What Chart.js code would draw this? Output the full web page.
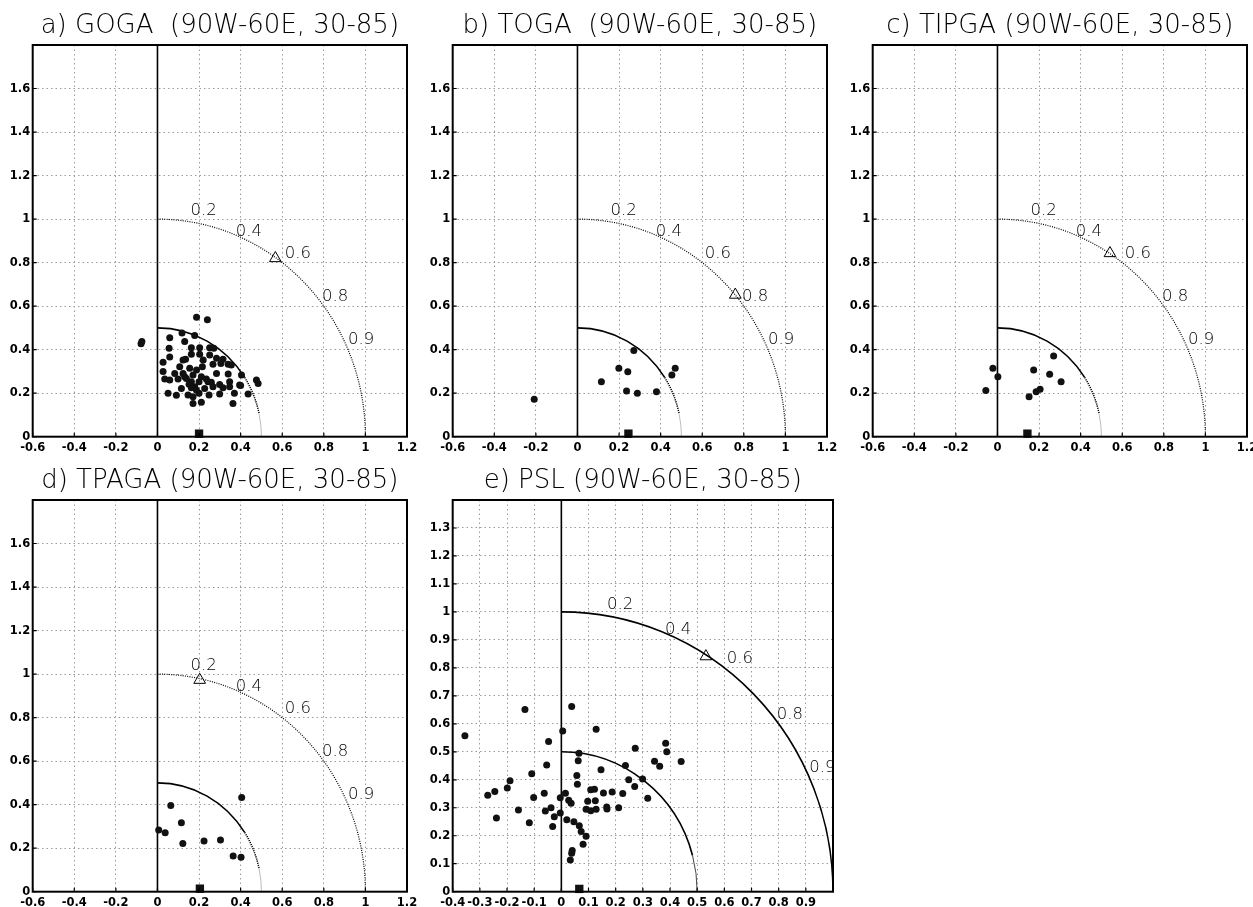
<!DOCTYPE html>
<html><head><meta charset="utf-8">
<script src="https://cdn.jsdelivr.net/npm/chart.js@4.4.1/dist/chart.umd.min.js"></script>
<style>
html,body{margin:0;padding:0;background:#fff;overflow:hidden;width:1253px;height:907px;}
canvas{position:absolute;}
</style></head><body>
<canvas id="pa"></canvas><canvas id="pb"></canvas><canvas id="pc"></canvas><canvas id="pd"></canvas><canvas id="pe"></canvas>
<script>
// ---------- titles ----------
const titles = [
  'a) GOGA  (90W-60E, 30-85)',
  'b) TOGA  (90W-60E, 30-85)',
  'c) TIPGA (90W-60E, 30-85)',
  'd) TPAGA (90W-60E, 30-85)',
  'e) PSL (90W-60E, 30-85)'
];
// ---------- tick labels ----------
const xLabelsWide = ['-0.6','-0.4','-0.2','0','0.2','0.4','0.6','0.8','1','1.2'];
const yLabelsWide = ['0','0.2','0.4','0.6','0.8','1','1.2','1.4','1.6',''];
const xLabelsPsl = ['-0.4','-0.3','-0.2','-0.1','0','0.1','0.2','0.3','0.4','0.5','0.6','0.7','0.8','0.9',''];
const yLabelsPsl = ['0','0.1','0.2','0.3','0.4','0.5','0.6','0.7','0.8','0.9','1','1.1','1.2','1.3',''];
// correlation labels on the unit arc
const corrLabels = [0.2, 0.4, 0.6, 0.8, 0.9];

// ---------- data: [x, y] ----------
const gogaPoints = [
 [-0.075,0.437],[-0.079,0.427],[0.188,0.549],[0.24,0.537],
 [0.059,0.455],[0.118,0.476],[0.179,0.465],[0.131,0.437],
 [0.056,0.406],[0.163,0.409],[0.203,0.409],[0.251,0.409],[0.271,0.406],
 [0.163,0.379],[0.203,0.379],[0.251,0.376],[0.284,0.36],[0.315,0.356],
 [0.059,0.366],[0.027,0.342],[0.123,0.353],[0.135,0.356],[0.22,0.353],
 [0.34,0.333],[0.355,0.33],[0.305,0.336],[0.267,0.333],
 [0.107,0.322],[0.155,0.314],[0.188,0.307],[0.216,0.322],[0.131,0.276],
 [0.083,0.291],[0.027,0.3],[0.123,0.291],[0.171,0.284],[0.211,0.276],[0.284,0.291],[0.34,0.288],[0.404,0.284],
 [0.035,0.265],[0.059,0.26],[0.099,0.265],[0.139,0.268],[0.163,0.253],[0.2,0.253],[0.235,0.265],[0.259,0.25],
 [0.299,0.24],[0.347,0.253],[0.395,0.238],[0.152,0.241],[0.243,0.253],[0.179,0.23],
 [0.476,0.26],[0.484,0.245],
 [0.115,0.222],[0.163,0.225],[0.187,0.215],[0.227,0.222],[0.267,0.23],[0.315,0.225],[0.347,0.23],[0.4,0.235],
 [0.051,0.2],[0.091,0.19],[0.147,0.192],[0.171,0.184],[0.2,0.2],[0.248,0.192],[0.299,0.196],[0.37,0.2],[0.436,0.196],
 [0.171,0.153],[0.211,0.158],[0.363,0.153]
];
const togaPoints = [
 [-0.208,0.172],[0.115,0.253],[0.199,0.314],[0.242,0.299],[0.271,0.396],
 [0.236,0.21],[0.288,0.2],[0.38,0.207],[0.454,0.284],[0.47,0.314]
];
const tipgaPoints = [
 [-0.056,0.212],[-0.022,0.314],[0.002,0.276],[0.152,0.184],[0.174,0.307],
 [0.186,0.207],[0.205,0.218],[0.251,0.287],[0.27,0.371],[0.306,0.253]
];
const tpagaPoints = [
 [0.006,0.284],[0.037,0.271],[0.064,0.396],[0.115,0.317],[0.122,0.222],
 [0.224,0.233],[0.303,0.238],[0.364,0.164],[0.402,0.158],[0.405,0.433]
];
const pslPoints = [
 [-0.355,0.557],[-0.134,0.651],[0.038,0.662],[0.005,0.574],[0.128,0.581],[-0.047,0.537],[-0.054,0.453],
 [-0.109,0.422],[-0.189,0.397],[-0.199,0.371],[-0.245,0.358],[-0.271,0.345],[-0.239,0.263],[-0.158,0.292],
 [-0.118,0.246],[-0.102,0.337],[-0.063,0.352],[-0.059,0.288],[-0.038,0.3],[-0.026,0.268],[-0.032,0.233],
 [-0.004,0.336],[-0.004,0.281],[0.015,0.352],[0.027,0.327],[0.036,0.316],[0.02,0.257],[0.046,0.25],
 [0.066,0.236],[0.073,0.215],[0.091,0.198],[0.08,0.17],[0.04,0.147],[0.038,0.137],[0.033,0.113],
 [0.065,0.495],[0.062,0.468],[0.057,0.415],[0.059,0.384],[0.146,0.436],[0.097,0.323],[0.108,0.364],
 [0.122,0.366],[0.125,0.325],[0.091,0.295],[0.108,0.289],[0.128,0.295],[0.155,0.353],[0.187,0.356],
 [0.167,0.303],[0.168,0.296],[0.211,0.3],[0.226,0.351],[0.236,0.451],[0.248,0.4],[0.27,0.376],
 [0.272,0.513],[0.299,0.403],[0.318,0.334],[0.343,0.466],[0.362,0.448],[0.384,0.531],[0.388,0.5],[0.441,0.465]
];
// reference (open triangle) and observation (filled square)
const gogaRef = [0.567,0.82],  gogaObs = [0.2,0.014];
const togaRef = [0.759,0.652], togaObs = [0.245,0.014];
const tipgaRef = [0.541,0.843], tipgaObs = [0.144,0.014];
const tpagaRef = [0.203,0.973], tpagaObs = [0.204,0.014];
const pslRef = [0.532,0.841],  pslObs = [0.066,0.01];

// ---------- styling / layout ----------
const labelNudge = [[-8.6,-8.6],[-5,-1.4],[2.5,-4.5],[-1.8,-5.3],[3.4,2.3]];
const FONT = '"DejaVu Sans", "Liberation Sans", sans-serif';

const taylorDecor = {
  id: 'taylorDecor',
  beforeDatasetsDraw(chart, args, o) {
    const {ctx, chartArea: a, scales: {x, y}} = chart;
    const cx = x.getPixelForValue(0), cy = y.getPixelForValue(0);
    const rx = x.getPixelForValue(1) - cx, ry = cy - y.getPixelForValue(1);
    ctx.save();
    ctx.beginPath(); ctx.rect(a.left, a.top, a.right - a.left, a.bottom - a.top); ctx.clip();
    ctx.strokeStyle = '#000'; ctx.setLineDash([]); ctx.lineWidth = 1.6;
    ctx.beginPath(); ctx.moveTo(cx, a.top); ctx.lineTo(cx, a.bottom); ctx.stroke();
    const arc = (r, d0, d1, lw, dash, col) => {
      ctx.beginPath();
      ctx.lineWidth = lw; ctx.setLineDash(dash); ctx.strokeStyle = col;
      ctx.ellipse(cx, cy, rx * r, ry * r, 0, -d0 * Math.PI / 180, -d1 * Math.PI / 180, false);
      ctx.stroke();
    };
    if (o.solid) {
      arc(1, 90, 0, 1.6, [], '#000');
      arc(0.5, 90, 15, 1.6, [], '#000');
      arc(0.5, 15, 0, 1, [], '#444');
    } else {
      arc(1, 90, 0, 1.2, [1, 1.3], '#000');
      arc(0.5, 90, 33, 1.6, [], '#000');
      arc(0.5, 33, 12, 1.5, [1.2, 1], '#000');
      arc(0.5, 12, 0, 0.8, [], '#aaa');
    }
    ctx.setLineDash([]);
    ctx.fillStyle = '#000';
    ctx.font = '300 16.5px ' + FONT;
    ctx.textAlign = 'left'; ctx.textBaseline = 'alphabetic';
    corrLabels.forEach((r, i) => {
      const px = x.getPixelForValue(r), py = y.getPixelForValue(Math.sqrt(1 - r * r));
      ctx.fillText(String(r), px + labelNudge[i][0], py + labelNudge[i][1]);
    });
    ctx.restore();
  },
  afterDraw(chart) {
    const {ctx, chartArea: a, scales: {x, y}} = chart;
    ctx.save();
    ctx.strokeStyle = '#000'; ctx.lineWidth = 2; ctx.setLineDash([]);
    ctx.strokeRect(a.left, a.top, a.right - a.left, a.bottom - a.top);
    ctx.lineWidth = 1.2;
    ctx.beginPath();
    x.ticks.forEach(t => { const p = x.getPixelForValue(t.value); ctx.moveTo(p, a.bottom); ctx.lineTo(p, a.bottom - 4); });
    y.ticks.forEach(t => { const p = y.getPixelForValue(t.value); ctx.moveTo(a.left, p); ctx.lineTo(a.left + 4, p); });
    ctx.stroke();
    ctx.restore();
  }
};

const panels = [
  {id:'pa', left:0,   top:0,   w:440, h:455, title:titles[0], xr:[-0.6,1.2,0.2], yr:[0,1.8,0.2], xl:xLabelsWide, yl:yLabelsWide, pts:gogaPoints,  ref:gogaRef,  obs:gogaObs,  solid:false},
  {id:'pb', left:420, top:0,   w:440, h:455, title:titles[1], xr:[-0.6,1.2,0.2], yr:[0,1.8,0.2], xl:xLabelsWide, yl:yLabelsWide, pts:togaPoints,  ref:togaRef,  obs:togaObs,  solid:false},
  {id:'pc', left:840, top:0,   w:440, h:455, title:titles[2], xr:[-0.6,1.2,0.2], yr:[0,1.8,0.2], xl:xLabelsWide, yl:yLabelsWide, pts:tipgaPoints, ref:tipgaRef, obs:tipgaObs, solid:false},
  {id:'pd', left:0,   top:455, w:440, h:452, title:titles[3], xr:[-0.6,1.2,0.2], yr:[0,1.8,0.2], xl:xLabelsWide, yl:yLabelsWide, pts:tpagaPoints, ref:tpagaRef, obs:tpagaObs, solid:false},
  {id:'pe', left:420, top:455, w:446, h:452, title:titles[4], xr:[-0.4,1.0,0.1], yr:[0,1.4,0.1], xl:xLabelsPsl,  yl:yLabelsPsl,  pts:pslPoints,   ref:pslRef,   obs:pslObs,   solid:true}
];

const CHART_BOTTOM = 436.7, YAXIS_W = 32.7, RIGHT_PAD = 33;
const gridDash = [1.5, 3];

panels.forEach(p => {
  const cv = document.getElementById(p.id);
  cv.width = p.w; cv.height = p.h;
  cv.style.left = p.left + 'px'; cv.style.top = p.top + 'px';
  cv.style.width = p.w + 'px'; cv.style.height = p.h + 'px';
  new Chart(cv, {
    type: 'scatter',
    data: {
      datasets: [
        {data: p.pts.map(d => ({x: d[0], y: d[1]})), pointRadius: 3.5, pointBackgroundColor: '#111', pointBorderWidth: 0, pointStyle: 'circle'},
        {data: [{x: p.ref[0], y: p.ref[1]}], pointStyle: 'triangle', pointRadius: 6.75, pointBackgroundColor: 'rgba(0,0,0,0)', pointBorderColor: '#000', pointBorderWidth: 1},
        {data: [{x: p.obs[0], y: p.obs[1]}], pointStyle: 'rect', pointRadius: 5.9, pointBackgroundColor: '#111', pointBorderWidth: 0, clip: false}
      ]
    },
    options: {
      responsive: false, animation: false, devicePixelRatio: 1,
      layout: {padding: {left: 0, right: RIGHT_PAD, top: 0, bottom: 0}},
      plugins: {
        legend: {display: false}, tooltip: {enabled: false},
        title: {display: true, fullSize: false, text: p.title, color: '#000',
          font: {family: FONT, size: 26, weight: '200', lineHeight: 1},
          padding: {top: 13, bottom: 6}},
        taylorDecor: {solid: p.solid}
      },
      scales: {
        x: {
          type: 'linear', min: p.xr[0], max: p.xr[1],
          afterFit: s => { s.height = p.h - CHART_BOTTOM; },
          ticks: {stepSize: p.xr[2], autoSkip: false, maxRotation: 0, padding: 4.5, color: '#000',
            font: {family: FONT, size: 11.5, weight: 'bold'},
            callback: (v, i) => p.xl[i]},
          grid: {color: '#9a9a9a', lineWidth: 1, drawTicks: false},
          border: {display: false, dash: gridDash}
        },
        y: {
          type: 'linear', min: p.yr[0], max: p.yr[1],
          afterFit: s => { s.width = YAXIS_W; },
          ticks: {stepSize: p.yr[2], autoSkip: false, padding: 2.5, color: '#000',
            font: {family: FONT, size: 11.5, weight: 'bold'},
            callback: (v, i) => p.yl[i]},
          grid: {color: '#9a9a9a', lineWidth: 1, drawTicks: false},
          border: {display: false, dash: gridDash}
        }
      }
    },
    plugins: [taylorDecor]
  });
});
</script>
</body></html>
